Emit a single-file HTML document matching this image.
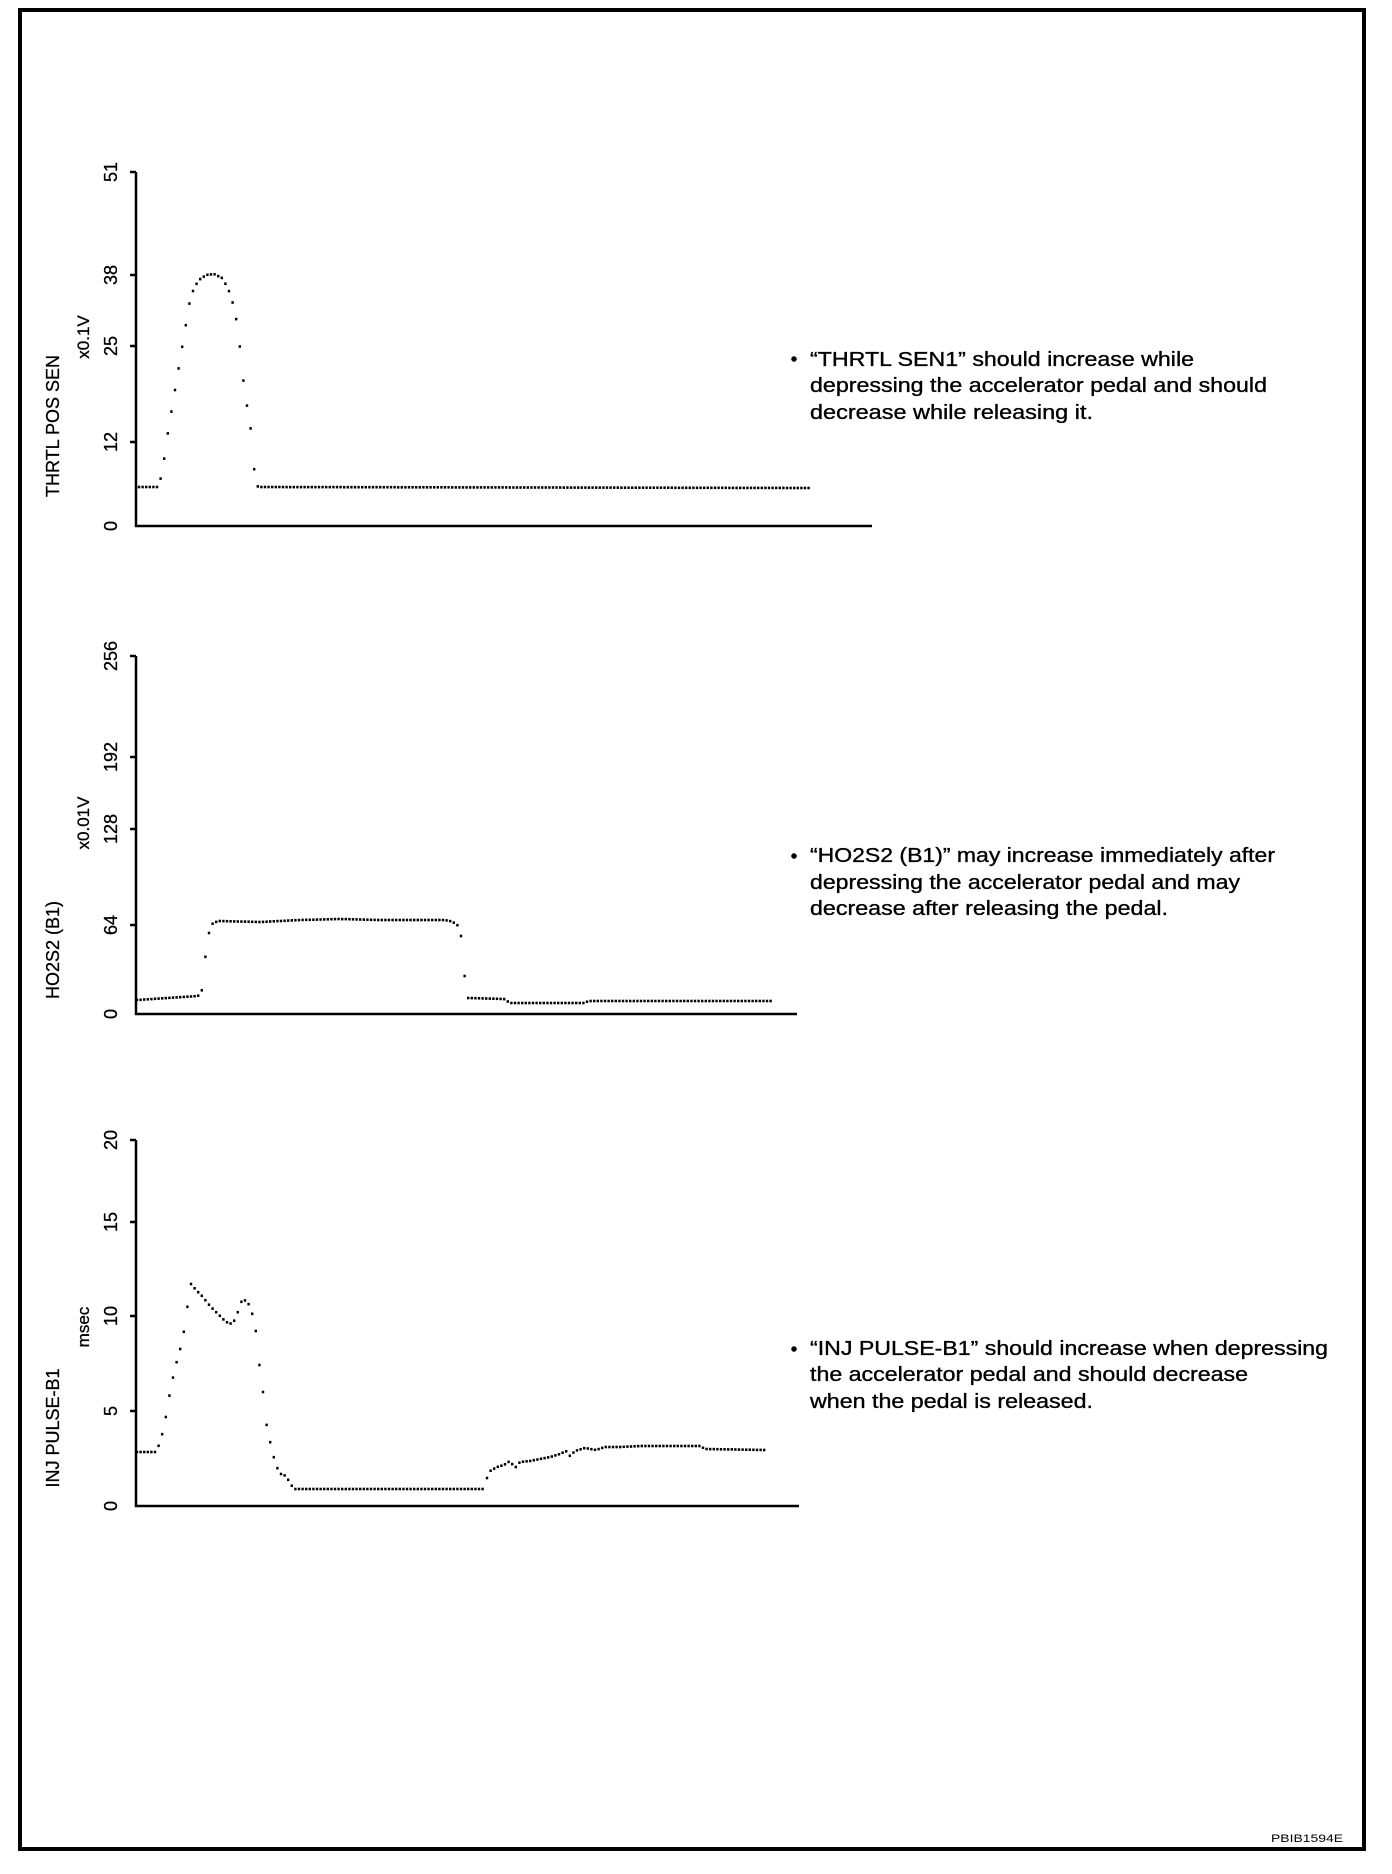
<!DOCTYPE html>
<html><head><meta charset="utf-8"><style>
html,body{margin:0;padding:0;background:#fff;}
svg{display:block;font-family:"Liberation Sans",Arial,sans-serif;}
</style></head><body>
<svg id="s" width="1392" height="1874" viewBox="0 0 1392 1874" xmlns="http://www.w3.org/2000/svg">
<rect x="20" y="10" width="1344" height="1839" fill="none" stroke="#000" stroke-width="4"/>

<!-- Chart 1 -->
<g stroke="#000" stroke-width="2.5" fill="none">
<path d="M136 172 V526 H872"/>
<path d="M130 172H136 M130 275H136 M130 346H136 M130 442H136"/>
</g>
<g font-size="18" fill="#000" text-anchor="middle" stroke="#000" stroke-width="0.3">
<text transform="translate(117,172) rotate(-90)">51</text>
<text transform="translate(117,275) rotate(-90)">38</text>
<text transform="translate(117,346) rotate(-90)">25</text>
<text transform="translate(117,442) rotate(-90)">12</text>
<text transform="translate(117,526) rotate(-90)">0</text>
</g>
<g stroke="#000" stroke-width="0.3">
<text transform="translate(59,426) rotate(-90)" font-size="18" text-anchor="middle">THRTL POS SEN</text>
<text transform="translate(89,337) rotate(-90)" font-size="17" text-anchor="middle">x0.1V</text>
</g>

<!-- Chart 2 -->
<g stroke="#000" stroke-width="2.5" fill="none">
<path d="M136 656 V1014 H797"/>
<path d="M130 656H136 M130 757H136 M130 829H136 M130 925H136"/>
</g>
<g font-size="18" fill="#000" text-anchor="middle" stroke="#000" stroke-width="0.3">
<text transform="translate(117,656) rotate(-90)">256</text>
<text transform="translate(117,757) rotate(-90)">192</text>
<text transform="translate(117,829) rotate(-90)">128</text>
<text transform="translate(117,925) rotate(-90)">64</text>
<text transform="translate(117,1014) rotate(-90)">0</text>
</g>
<g stroke="#000" stroke-width="0.3">
<text transform="translate(59,950) rotate(-90)" font-size="18" text-anchor="middle">HO2S2 (B1)</text>
<text transform="translate(89,823) rotate(-90)" font-size="17" text-anchor="middle">x0.01V</text>
</g>

<!-- Chart 3 -->
<g stroke="#000" stroke-width="2.5" fill="none">
<path d="M136 1140 V1506 H799"/>
<path d="M130 1140H136 M130 1222H136 M130 1316H136 M130 1411H136"/>
</g>
<g font-size="18" fill="#000" text-anchor="middle" stroke="#000" stroke-width="0.3">
<text transform="translate(117,1140) rotate(-90)">20</text>
<text transform="translate(117,1222) rotate(-90)">15</text>
<text transform="translate(117,1316) rotate(-90)">10</text>
<text transform="translate(117,1411) rotate(-90)">5</text>
<text transform="translate(117,1506) rotate(-90)">0</text>
</g>
<g stroke="#000" stroke-width="0.3">
<text transform="translate(59,1428) rotate(-90)" font-size="18" text-anchor="middle">INJ PULSE-B1</text>
<text transform="translate(89,1327) rotate(-90)" font-size="17" text-anchor="middle">msec</text>
</g>

<g id="dots" fill="#000"></g>

<!-- Text blocks -->
<g font-size="20" fill="#000" stroke="#000" stroke-width="0.35">
<circle cx="794" cy="359" r="2.6"/>
<text x="810" y="366" textLength="384" lengthAdjust="spacingAndGlyphs">“THRTL SEN1” should increase while</text>
<text x="810" y="392" textLength="457" lengthAdjust="spacingAndGlyphs">depressing the accelerator pedal and should</text>
<text x="810" y="419" textLength="283" lengthAdjust="spacingAndGlyphs">decrease while releasing it.</text>

<circle cx="794" cy="856" r="2.6"/>
<text x="810" y="862" textLength="465" lengthAdjust="spacingAndGlyphs">“HO2S2 (B1)” may increase immediately after</text>
<text x="810" y="889" textLength="430" lengthAdjust="spacingAndGlyphs">depressing the accelerator pedal and may</text>
<text x="810" y="915" textLength="358" lengthAdjust="spacingAndGlyphs">decrease after releasing the pedal.</text>

<circle cx="794" cy="1349" r="2.6"/>
<text x="810" y="1355" textLength="518" lengthAdjust="spacingAndGlyphs">“INJ PULSE-B1” should increase when depressing</text>
<text x="810" y="1381" textLength="438" lengthAdjust="spacingAndGlyphs">the accelerator pedal and should decrease</text>
<text x="810" y="1408" textLength="283" lengthAdjust="spacingAndGlyphs">when the pedal is released.</text>
</g>

<text x="1271" y="1842" font-size="11" textLength="72" lengthAdjust="spacingAndGlyphs">PBIB1594E</text>
</svg>
<script>
var series=[
[139,487,158,487,162,474,168,432,174,396,180,360,186,324,190,300,194,288,199,280,206,275,214,274,222,278,228,288,235,310,240,348,245,396,250,420,253,462,257,486,259,487,811,488],
[137,1000,198,996,202,990,205,960,208,936,212,924,218,921,260,922,300,920,340,919,380,920,444,920,450,921,457,924,461,936,463,960,466,990,468,998,504,999,510,1003,585,1003,588,1001,774,1001],
[137,1452,156,1452,161,1440,166,1416,170,1392,175,1368,180,1350,185,1326,188,1302,191,1284,196,1290,202,1296,210,1306,218,1314,226,1322,232,1324,236,1318,241,1302,246,1300,251,1308,256,1332,259,1362,263,1392,266,1422,271,1446,276,1466,281,1474,286,1476,290,1483,294,1489,486,1489],
[487,1478,490,1471,497,1467,504,1465,510,1461,515,1468,520,1462,530,1461,540,1459,550,1457,560,1454,566,1451,570,1456,575,1451,585,1448,596,1450,605,1447,620,1447,640,1446,660,1446,700,1446,705,1449,765,1450]
];
var g=document.getElementById('dots'),ns='http://www.w3.org/2000/svg';
series.forEach(function(p){
  var x0=p[0],xe=p[p.length-2],i=0;
  for(var x=x0;x<=xe;x+=3.6){
    while(i<p.length-4&&p[i+2]<x)i+=2;
    var xa=p[i],ya=p[i+1],xb=p[i+2],yb=p[i+3];
    var y=xb===xa?ya:ya+(yb-ya)*(x-xa)/(xb-xa);
    var r=document.createElementNS(ns,'rect');
    r.setAttribute('x',(x-1.2).toFixed(1));r.setAttribute('y',(y-1.3).toFixed(1));
    r.setAttribute('width','2.4');r.setAttribute('height','2.6');
    g.appendChild(r);
  }
});
</script>
</body></html>
